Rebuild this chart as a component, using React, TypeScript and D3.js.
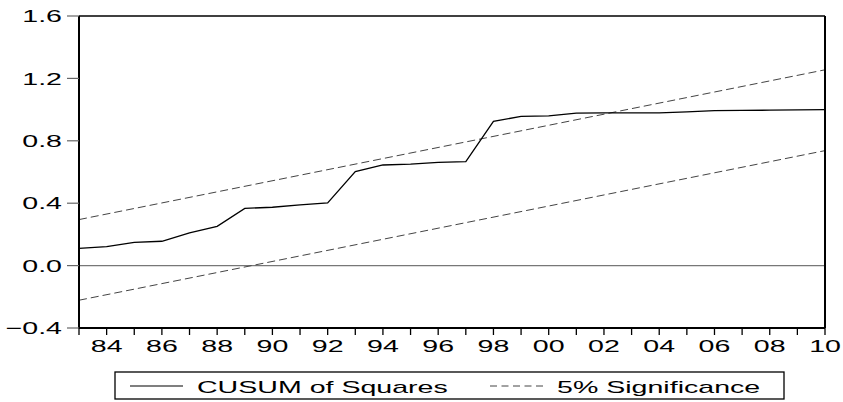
import * as d3 from 'd3';

// CUSUM of squares test, 1983-2010
const YEARS = [
  1983, 1984, 1985, 1986, 1987, 1988, 1989, 1990, 1991, 1992,
  1993, 1994, 1995, 1996, 1997, 1998, 1999, 2000, 2001, 2002,
  2003, 2004, 2005, 2006, 2007, 2008, 2009, 2010,
];
const CUSUM_SQ = [
  0.111, 0.122, 0.149, 0.156, 0.21, 0.252, 0.367, 0.374, 0.389, 0.402,
  0.603, 0.645, 0.65, 0.662, 0.667, 0.924, 0.957, 0.96, 0.978, 0.979,
  0.979, 0.979, 0.985, 0.994, 0.995, 0.996, 0.998, 1.0,
];
// 5% significance bounds (straight lines, start and end)
const SIG_YEARS = [1983, 2010];
const SIG_UPPER = [0.295, 1.255];
const SIG_LOWER = [-0.222, 0.737];

const Y_TICKS = [-0.4, 0.0, 0.4, 0.8, 1.2, 1.6];
const X_LABEL_YEARS = [1984, 1986, 1988, 1990, 1992, 1994, 1996, 1998, 2000, 2002, 2004, 2006, 2008, 2010];

const W = 843;
const H = 402;
const M = { left: 79, right: 825, top: 16, bottom: 328 };
const FONT = 'Arial, "Liberation Sans", sans-serif';
const FS = 17;
const SX = 1.68; // source picture is stretched horizontally

function Txt({ x, y, anchor = 'start', dy = '0', children }: any) {
  return (
    <text
      transform={`translate(${x},${y}) scale(${SX},1)`}
      textAnchor={anchor}
      dy={dy}
      fontFamily={FONT}
      fontSize={FS}
      fill="#000"
    >
      {children}
    </text>
  );
}

export default function App() {
  const x = d3.scaleLinear().domain([1983, 2010]).range([M.left, M.right]);
  const y = d3.scaleLinear().domain([-0.4, 1.6]).range([M.bottom, M.top]);
  const fmt = d3.format('.1f');

  const line = d3.line<[number, number]>()
    .x(d => x(d[0]))
    .y(d => y(d[1]));

  const cusumPath = line(YEARS.map((yr, i) => [yr, CUSUM_SQ[i]]));
  const upperPath = line(SIG_YEARS.map((yr, i) => [yr, SIG_UPPER[i]]));
  const lowerPath = line(SIG_YEARS.map((yr, i) => [yr, SIG_LOWER[i]]));

  const legY = 386;

  return (
    <div style={{ position: 'absolute', left: 0, top: 0 }}>
      <svg width={W} height={H} style={{ display: 'block', background: '#fff' }}>
        {/* zero line */}
        <line x1={M.left} x2={M.right} y1={y(0)} y2={y(0)} stroke="#777" strokeWidth={1.2} />

        {/* significance bounds */}
        <path d={upperPath || ''} fill="none" stroke="#444" strokeWidth={1} strokeDasharray="8 4" />
        <path d={lowerPath || ''} fill="none" stroke="#444" strokeWidth={1} strokeDasharray="8 4" />

        {/* cusum of squares */}
        <path d={cusumPath || ''} fill="none" stroke="#000" strokeWidth={1.3} />

        {/* frame */}
        <line x1={M.left} x2={M.right} y1={M.top} y2={M.top} stroke="#000" strokeWidth={1.3} />
        <line x1={M.left} x2={M.left} y1={M.top} y2={M.bottom} stroke="#000" strokeWidth={2} />
        <line x1={M.right} x2={M.right} y1={M.top} y2={M.bottom} stroke="#000" strokeWidth={2} />
        <line x1={M.left} x2={M.right} y1={M.bottom} y2={M.bottom} stroke="#000" strokeWidth={2} />

        {/* y axis */}
        {Y_TICKS.map(t => (
          <g key={t}>
            <line x1={M.left - 12} x2={M.left} y1={y(t)} y2={y(t)} stroke="#666" strokeWidth={1.2} />
            <Txt x={62} y={y(t)} anchor="end" dy="0.36em">{fmt(t)}</Txt>
          </g>
        ))}

        {/* x axis */}
        {YEARS.map(yr => (
          <line key={yr} x1={x(yr)} x2={x(yr)} y1={M.bottom} y2={M.bottom + 7} stroke="#000" strokeWidth={1.3} />
        ))}
        {X_LABEL_YEARS.map(yr => (
          <Txt key={yr} x={x(yr)} y={352} anchor="middle">{String(yr % 100).padStart(2, '0')}</Txt>
        ))}

        {/* legend */}
        <rect x={115} y={372} width={669} height={27} fill="none" stroke="#000" strokeWidth={1.3} />
        <line x1={130} x2={183} y1={legY} y2={legY} stroke="#000" strokeWidth={1.2} />
        <Txt x={197} y={393}>CUSUM of Squares</Txt>
        <line x1={490} x2={547} y1={legY} y2={legY} stroke="#444" strokeWidth={1} strokeDasharray="7 4.5" />
        <Txt x={557} y={393}>5% Significance</Txt>
      </svg>
    </div>
  );
}
